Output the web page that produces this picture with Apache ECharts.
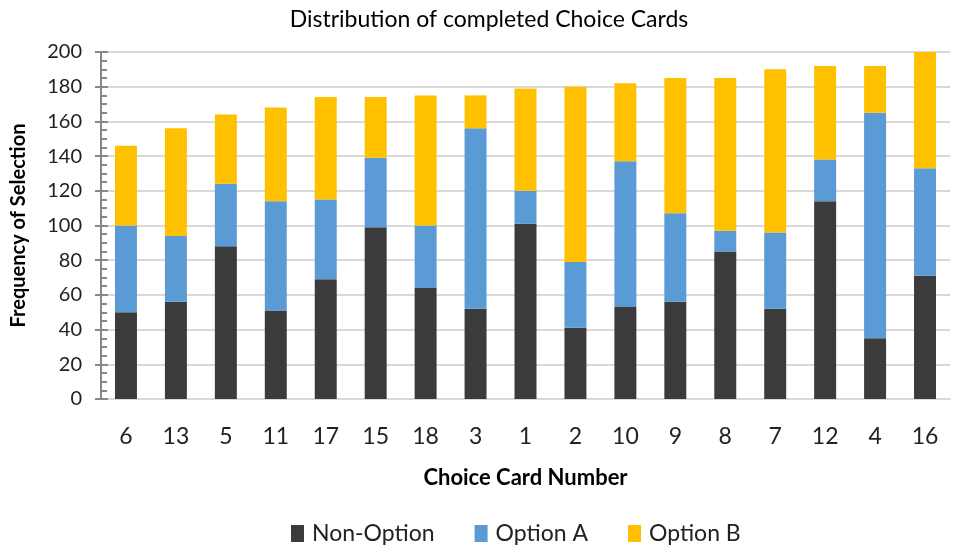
<!DOCTYPE html>
<html>
<head>
<meta charset="utf-8">
<script src="https://cdn.jsdelivr.net/npm/echarts@6/dist/echarts.min.js"></script>
<style>
  html, body { margin: 0; padding: 0; background: #fff; }
  #chart { width: 968px; height: 554px; }
</style>
</head>
<body>
<div id="chart"></div>
<script>
// Choice cards, ordered by total number of completions
const cards = ['6', '13', '5', '11', '17', '15', '18', '3', '1', '2', '10', '9', '8', '7', '12', '4', '16'];
const nonOption = [50, 56, 88, 51, 69, 99, 64, 52, 101, 41, 53, 56, 85, 52, 114, 35, 71];
const optionA   = [50, 38, 36, 63, 46, 40, 36, 104, 19, 38, 84, 51, 12, 44, 24, 130, 62];
const optionB   = [46, 62, 40, 54, 59, 35, 75, 19, 59, 101, 45, 78, 88, 94, 54, 27, 67];
const seriesNames = ['Non-Option', 'Option A', 'Option B'];
const colors = ['#3b3b3b', '#5b9bd5', '#ffc000'];

const FONT = 'Lato, "Noto Sans", sans-serif';
const chart = echarts.init(document.getElementById('chart'), null, { renderer: 'canvas' });

const yScale = { type: 'value', min: 0, max: 200, interval: 20 };

chart.setOption({
  animation: false,
  color: colors,
  textStyle: { fontFamily: FONT },
  title: {
    text: 'Distribution of completed Choice Cards',
    left: 484, top: 3, textAlign: 'center',
    textStyle: { fontFamily: FONT, fontSize: 23, fontWeight: 'normal', color: '#000' }
  },
  legend: {
    bottom: 4, left: 286,
    itemWidth: 13, itemHeight: 17, itemGap: 40,
    icon: 'rect',
    textStyle: { fontFamily: FONT, fontSize: 23, color: '#222', padding: [0, 0, 0, 3] },
    data: seriesNames
  },
  grid: { left: 101, right: 18, top: 52, bottom: 155 },
  xAxis: {
    type: 'category',
    data: cards,
    name: 'Choice Card Number',
    nameLocation: 'middle',
    nameGap: 68,
    nameTextStyle: { fontFamily: FONT, fontSize: 22, fontWeight: 'bold', color: '#000' },
    axisLine: { show: true, lineStyle: { color: '#d9d9d9', width: 2 } },
    axisTick: { show: false },
    axisLabel: { fontFamily: FONT, fontSize: 23, color: '#222', margin: 26 }
  },
  yAxis: [
    Object.assign({}, yScale, {
      name: 'Frequency of Selection',
      nameLocation: 'middle',
      nameGap: 72,
      nameTextStyle: { fontFamily: FONT, fontSize: 20, fontWeight: 'bold', color: '#000' },
      axisLine: { show: true, lineStyle: { color: '#888', width: 2 } },
      axisTick: { show: true, inside: true, length: 7, lineStyle: { color: '#888', width: 2 } },
      minorTick: { show: true, splitNumber: 4, length: 6, lineStyle: { color: '#888', width: 2 } },
      axisLabel: { fontFamily: FONT, fontSize: 20, color: '#222', margin: 19 },
      splitLine: { show: true, lineStyle: { color: '#d9d9d9', width: 2 } }
    }),
    // outward half of the crossing major ticks
    Object.assign({}, yScale, {
      position: 'left',
      axisLine: { show: false },
      axisTick: { show: true, inside: false, length: 6, lineStyle: { color: '#888', width: 2 } },
      axisLabel: { show: false },
      splitLine: { show: false }
    })
  ],
  series: seriesNames.map((name, i) => ({
    name,
    type: 'bar',
    stack: 'total',
    barWidth: '44%',
    data: [nonOption, optionA, optionB][i],
    itemStyle: { color: colors[i] }
  }))
});
</script>
</body>
</html>
